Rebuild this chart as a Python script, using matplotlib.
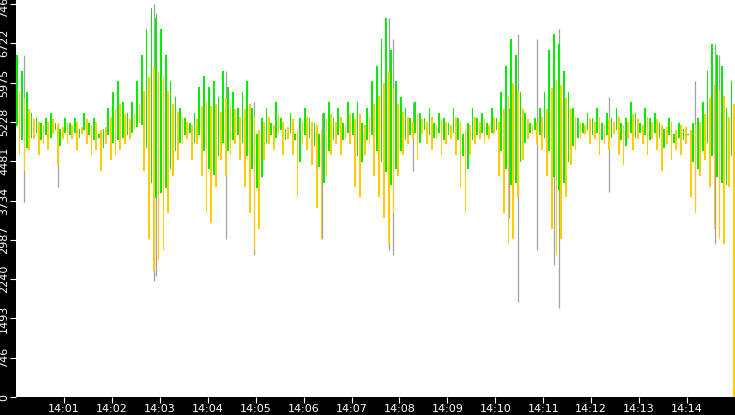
import matplotlib
matplotlib.use("Agg")
import matplotlib.pyplot as plt
import numpy as np

closes = [
 6500,4600,6200,4300,5800,4700,5400,4900,5300,4600,5200,4800,5300,4700,5400,5000,5200,4400,5100,4900,
 5300,4800,5200,4900,5300,4700,5100,5000,5400,4800,5200,4600,5300,4700,5000,4300,5100,4800,5500,4500,
 5800,4600,6000,4700,5600,4800,5400,4900,5600,5100,6000,5200,6500,4300,7000,3000,7400,2400,7200,2600,
 7000,2800,6500,3500,6000,4200,5700,4500,5500,4800,5300,4900,5200,4500,5400,4800,5900,4200,6100,3500,
 5900,3300,6000,4000,5700,4500,6200,4200,5900,4600,5800,4800,5500,4500,5800,4000,6000,3500,5500,2800,
 5000,3200,5300,4500,5500,4800,5200,4700,5600,5000,5300,4600,5100,4900,5400,4600,5000,3800,5300,4800,
 5500,4700,5300,4400,5200,3600,5000,3000,5400,4200,5600,4600,5300,4800,5500,4600,5200,4900,5600,4800,
 5400,4000,5600,3800,5200,4600,5500,4800,6000,4200,6300,3800,6800,3400,7200,2900,6600,3500,6000,4200,
 5700,4600,5500,4800,5300,4900,5600,4500,5400,5000,5300,4800,5500,4700,5200,4900,5400,4600,5300,4800,
 5200,4900,5500,4600,5300,4000,5000,3500,5200,4600,5500,4800,5300,4900,5400,4800,5200,4900,5500,5000,
 5300,4200,5800,3500,6300,2900,6800,3000,6500,3800,5800,4500,5400,4900,5200,5000,5300,4800,5500,4700,
 5800,4200,6600,3200,6900,2700,6700,3000,6200,3800,5800,4400,5500,4700,5300,4900,5200,5000,5400,4800,
 5300,4900,5500,4600,5200,4800,5400,4700,5300,5000,5500,4600,5200,4400,5300,4900,5600,4700,5400,4900,
 5200,4800,5500,4600,5300,4900,5400,4700,5200,4300,5100,4800,5300,4500,5000,4700,5200,4600,5100,4800,
 5000,3800,5200,3500,5300,4200,5600,4500,6200,4000,6700,3200,6500,3000,6300,2900,5500,4000,6000,0,
]
baseline = 5150
wick_idx = [3, 17, 57, 58, 87, 99, 127, 155, 157, 165, 205, 209, 217, 224, 226, 247, 283, 291, 293]
wick_lo  = [3700, 4000, 2200, 2300, 3000, 2700, 3000, 2800, 2700, 4300, 3400, 1800, 2800, 2500, 1700, 3900, 3600, 2900, 3100]
wick_hi  = [6500, 5200, 7469, 7300, 6200, 5600, 5400, 7200, 6800, 5600, 5500, 6900, 6800, 6300, 7000, 5700, 6000, 6700, 6500]
yticks = [0, 746, 1493, 2240, 2987, 3734, 4481, 5228, 5975, 6722, 7469]
xtick_labels = ["14:%02d" % m for m in range(1, 15)]

n = len(closes)
x = np.arange(n) * 0.05 + 0.025
cl = np.array(closes, dtype=float)
prev = np.concatenate([[baseline], cl[:-1]])
opens = 0.5 * prev + 0.5 * baseline
colors = ["#00ee00" if c >= o else "#ffcc00" for o, c in zip(opens, cl)]

fig = plt.figure(figsize=(7.35, 4.15), dpi=100, facecolor="black")
ax = fig.add_axes([16/735, 18/415, 719/735, 397/415])
ax.set_facecolor("white")
ax.vlines(x[wick_idx], wick_lo, wick_hi, color="#a0a0a0", lw=0.9, zorder=1)
ax.bar(x, cl - opens, bottom=opens, width=0.036, color=colors, linewidth=0, zorder=2)
ax.set_xlim(0, 15)
ax.set_ylim(0, 7545)
ax.set_yticks(yticks)
ax.set_yticklabels([str(v) for v in yticks], rotation=90, va="center", color="white", fontsize=8)
ax.set_xticks(range(1, 15))
ax.set_xticklabels(xtick_labels, color="white", fontsize=8)
ax.tick_params(colors="white", length=4, pad=1)
for s in ax.spines.values():
    s.set_visible(False)
fig.savefig("out.png", dpi=100, facecolor="black")
